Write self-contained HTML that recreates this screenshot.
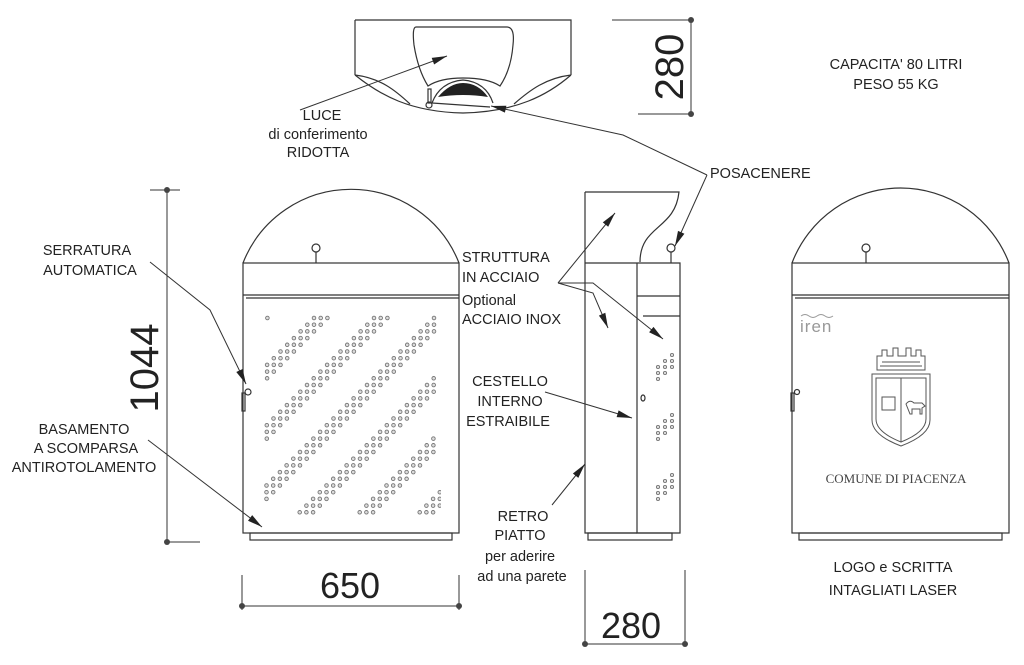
<!DOCTYPE html>
<html><head><meta charset="utf-8"><style>
html,body{margin:0;padding:0;background:#fff;}
svg{display:block;}
text{font-family:"Liberation Sans",sans-serif;fill:#222;}
</style></head><body>
<svg id="s" width="1024" height="665" viewBox="0 0 1024 665" xmlns="http://www.w3.org/2000/svg">
<defs>
<clipPath id="c1"><rect x="264" y="314" width="177" height="202"/></clipPath>
</defs>
<g fill="none" stroke="#333" stroke-width="1.2">
<path d="M355 20H571V75"/>
<path d="M355 20V75"/>
<path d="M355 75C380 95 410 112 463 113C516 112 548 95 571 75"/>
<path d="M355 75C380 78 395 90 410 104" />
<path d="M571 75C546 78 530 90 514 104"/>
<path d="M416 27H507Q515 27 513 45Q511 70 500 86Q488 78 463 78Q440 78 428 86Q418 70 414 45Q412 27 416 27z"/>
<path d="M432 103Q440 82 463 80Q486 82 493 103"/>
<path d="M432 103L490 107"/>
<rect x="428" y="89" width="3" height="14"/>
<circle cx="429" cy="105" r="3"/>
</g>
<path d="M438 97Q450 83 463 83Q478 83 488 97Q463 93 438 97z" fill="#222"/>
<g stroke="#333" stroke-width="1" fill="none">
<path d="M612 20H691V114H638"/>
<path d="M167 190V542M150 190H180M167 542H200"/>
<path d="M242 575V610M459 575V610M242 606H459"/>
<path d="M585 570V646M685 570V646M585 644H685"/>
</g>
<g fill="#444"><circle cx="691" cy="20" r="3"/><circle cx="691" cy="114" r="3"/><circle cx="167" cy="190" r="3"/><circle cx="167" cy="542" r="3"/><circle cx="242" cy="606" r="3"/><circle cx="459" cy="606" r="3"/><circle cx="585" cy="644" r="3"/><circle cx="685" cy="644" r="3"/></g>
<text transform="translate(683,67) rotate(-90)" font-size="40" text-anchor="middle">280</text>
<text transform="translate(158,368) rotate(-90)" font-size="40" text-anchor="middle">1044</text>
<text x="350" y="598" font-size="36" text-anchor="middle">650</text>
<text x="631" y="638" font-size="36" text-anchor="middle">280</text>

<g fill="none" stroke="#333" stroke-width="1.2">
<path d="M243 263A116 116 0 0 1 459 263"/>
<rect x="243" y="263" width="216" height="270"/>
<path d="M243 295H459M246 298H459"/>
<rect x="250" y="533" width="202" height="7"/>
<circle cx="316" cy="248" r="4"/><path d="M316 252V263"/>
<circle cx="248" cy="392" r="3"/><rect x="242" y="393" width="3" height="18"/>
<path d="M792 263A116 116 0 0 1 1009 263"/>
<rect x="792" y="263" width="217" height="270"/>
<path d="M792 295H1009M795 298H1009"/>
<rect x="799" y="533" width="203" height="7"/>
<circle cx="866" cy="248" r="4"/><path d="M866 252V263"/>
<circle cx="797" cy="392" r="2.5"/><rect x="791" y="393" width="3" height="18"/>
<path d="M585 192H679C675 230 640 225 640 262"/>
<path d="M585 192V533H637"/>
<path d="M585 263H680V533H637V263M637 296H680M643 316H680"/>
<rect x="588" y="533" width="84" height="7"/>
<circle cx="671" cy="248" r="4"/><path d="M671 252V263"/>
<ellipse cx="643" cy="398" rx="2" ry="3"/>
</g>
<g id="dots" clip-path="url(#c1)" fill="#ddd" stroke="#777" stroke-width="0.9"></g>
<g id="sdots" fill="#ddd" stroke="#777" stroke-width="0.9"></g>

<g fill="none" stroke="#555" stroke-width="1">
<path d="M872 374H930V420Q930 435 901 446Q872 435 872 420z"/>
<path d="M876 378H926V419Q926 432 901 442Q876 432 876 419z"/>
<path d="M901 378V442"/>
<rect x="882" y="397" width="13" height="13"/>
<path d="M906 404q4-5 8-1h8l3 3-3 2v6h-2v-5h-8v5h-2z"/>
<path d="M877 370H925V356H921V350H916V356H911V348H906V356H898V348H893V356H887V350H882V356H877z"/>
<path d="M880 366H922M882 362H920"/>
</g>
<text x="800" y="332" font-size="17" style="fill:#999;letter-spacing:1px">iren</text>
<path d="M801 316q4-3 8 0t8 0 8 0 8 0" stroke="#999" fill="none"/>
<text x="896" y="483" font-size="13" text-anchor="middle" style="font-family:'Liberation Serif',serif;fill:#444">COMUNE DI PIACENZA</text>

<g stroke="#333" stroke-width="1" fill="none">
<path d="M300 110L447 56"/>
<path d="M707 175L623 135L491 106"/>
<path d="M707 175L675 246"/>
<path d="M150 262L210 310L246 384"/>
<path d="M148 440L262 527"/>
<path d="M558 283L615 213"/>
<path d="M558 283L593 293L608 328"/>
<path d="M558 283L593 283L663 339"/>
<path d="M545 392L632 418"/>
<path d="M552 505L585 464"/>
</g>
<g fill="#222" stroke="none">
<polygon points="447,56 434.1,64.5 431.7,57.9"/>
<polygon points="491,106 506.4,105.8 504.9,112.6"/>
<polygon points="675,246 678.0,230.9 684.4,233.7"/>
<polygon points="246,384 236.3,372.0 242.6,369.0"/>
<polygon points="262,527 248.0,520.7 252.2,515.1"/>
<polygon points="615,213 608.2,226.8 602.8,222.4"/>
<polygon points="608,328 598.9,315.6 605.3,312.8"/>
<polygon points="663,339 649.1,332.3 653.5,326.9"/>
<polygon points="632,418 616.6,417.1 618.6,410.4"/>
<polygon points="585,464 578.3,477.9 572.9,473.5"/>
</g>

<g font-size="14.5">
<text x="322" y="120" text-anchor="middle">LUCE</text>
<text x="318" y="139" text-anchor="middle">di conferimento</text>
<text x="318" y="157" text-anchor="middle">RIDOTTA</text>
<text x="896" y="69" text-anchor="middle">CAPACITA' 80 LITRI</text>
<text x="896" y="89" text-anchor="middle">PESO 55 KG</text>
<text x="710" y="178">POSACENERE</text>
<text x="87" y="255" text-anchor="middle">SERRATURA</text>
<text x="90" y="275" text-anchor="middle">AUTOMATICA</text>
<text x="462" y="262">STRUTTURA</text>
<text x="462" y="282">IN ACCIAIO</text>
<text x="462" y="305">Optional</text>
<text x="462" y="324">ACCIAIO INOX</text>
<text x="510" y="386" text-anchor="middle">CESTELLO</text>
<text x="510" y="406" text-anchor="middle">INTERNO</text>
<text x="508" y="426" text-anchor="middle">ESTRAIBILE</text>
<text x="84" y="434" text-anchor="middle">BASAMENTO</text>
<text x="86" y="453" text-anchor="middle">A SCOMPARSA</text>
<text x="84" y="472" text-anchor="middle">ANTIROTOLAMENTO</text>
<text x="523" y="521" text-anchor="middle">RETRO</text>
<text x="520" y="540" text-anchor="middle">PIATTO</text>
<text x="520" y="561" text-anchor="middle">per aderire</text>
<text x="522" y="581" text-anchor="middle">ad una parete</text>
<text x="893" y="572" text-anchor="middle">LOGO e SCRITTA</text>
<text x="893" y="595" text-anchor="middle">INTAGLIATI LASER</text>
</g>
</svg>
<script>
var g=document.getElementById("dots"),h="";
var st=6.7;
for(var r=0;r<30;r++){var y=318+st*r;if(y>515)break;
 for(var k=-6;k<6;k++){var c=632+60*k;
  for(var j=0;j<3;j++){var x=(c-318)-(y-318)+j*st;
   if(x<264||x>440)continue;h+='<circle cx="'+x.toFixed(1)+'" cy="'+y.toFixed(1)+'" r="1.8"/>';}}}
g.innerHTML=h;
var s="";var sets=[355,415,475];
for(var i=0;i<3;i++){var b=sets[i];
 var pts=[[672,b],[665,b+6],[672,b+6],[658,b+12],[665,b+12],[672,b+12],[658,b+18],[665,b+18],[658,b+24]];
 for(var p=0;p<pts.length;p++)s+='<circle cx="'+pts[p][0]+'" cy="'+pts[p][1]+'" r="1.6"/>';}
document.getElementById("sdots").innerHTML=s;
</script>
</body></html>
